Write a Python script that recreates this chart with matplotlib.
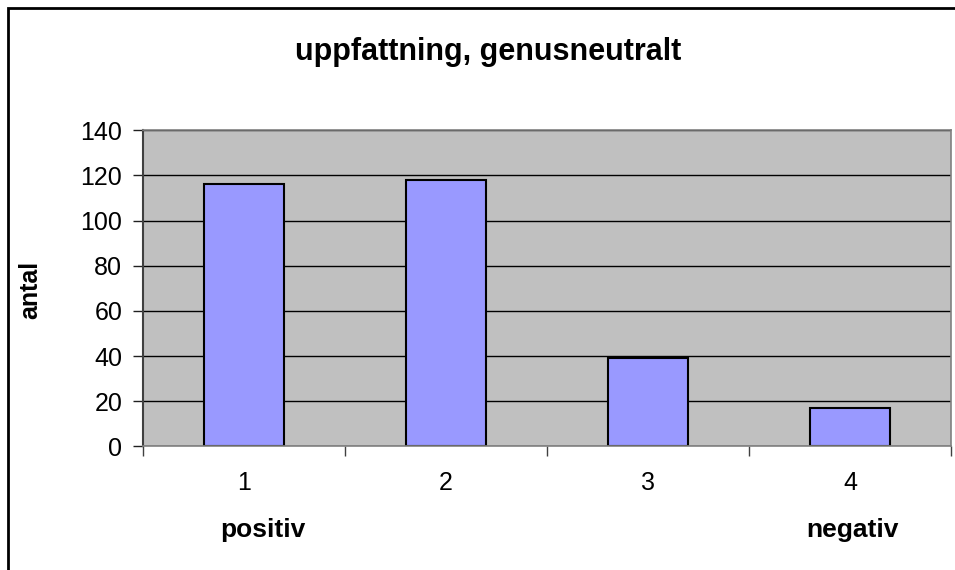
import matplotlib
matplotlib.use("Agg")
from matplotlib import pyplot as plt
from matplotlib.patches import Rectangle

# data
categories = ["1", "2", "3", "4"]
counts = [116, 118, 39, 17]
yticks = [0, 20, 40, 60, 80, 100, 120, 140]
title = "uppfattning, genusneutralt"
ylabel = "antal"
end_labels = ["positiv", "negativ"]

plt.rcParams["font.family"] = ["Liberation Sans", "DejaVu Sans"]

W, H = 955, 570
fig = plt.figure(figsize=(W / 100, H / 100), dpi=100)
ax = fig.add_axes([143 / W, 1 - 446.3 / H, 808 / W, 316 / H])

ax.set_facecolor("#c0c0c0")
pos = list(range(1, len(categories) + 1))
ax.bar(pos, counts, width=0.4, color="#9999ff", edgecolor="black", linewidth=1.5, zorder=3)

ax.set_xlim(0.5, len(categories) + 0.5)
ax.set_ylim(0, 140)
ax.set_yticks(yticks)
ax.yaxis.grid(True, color="black", linewidth=1.0)
ax.set_axisbelow(True)

# category boundaries as major ticks, labels on minor ticks
ax.set_xticks([p - 0.5 for p in pos] + [pos[-1] + 0.5])
ax.set_xticklabels([])
ax.set_xticks(pos, minor=True)
ax.set_xticklabels(categories, minor=True)
ax.tick_params(axis="x", which="major", length=7, width=1, color="#404040", direction="out")
ax.tick_params(axis="x", which="minor", length=0, pad=18, labelsize=18)
ax.tick_params(axis="y", length=7, width=1, color="#202020", pad=8, labelsize=18)

ax.spines["left"].set_color("#404040")
ax.spines["left"].set_linewidth(1.5)
for s in ["bottom", "right", "top"]:
    ax.spines[s].set_color("#808080")
    ax.spines[s].set_linewidth(1.2)
    ax.spines[s].set_zorder(4)

fig.text(488 / W, 1 - 52 / H, title, ha="center", va="center", fontsize=22, fontweight="bold")
fig.text(30 / W, 1 - 290 / H, ylabel, ha="center", va="center", rotation=90,
         fontsize=18, fontweight="bold")
fig.text(263 / W, 1 - 530 / H, end_labels[0], ha="center", va="center", fontsize=19, fontweight="bold")
fig.text(852 / W, 1 - 530 / H, end_labels[1], ha="center", va="center", fontsize=19, fontweight="bold")

# outer chart border, only left and top fall inside the image
fig.patches.append(Rectangle((8 / W, -0.1), 1.2, 1.1 - 8 / H, transform=fig.transFigure,
                             fill=False, edgecolor="black", linewidth=2))

fig.savefig("out.png", dpi=100)
